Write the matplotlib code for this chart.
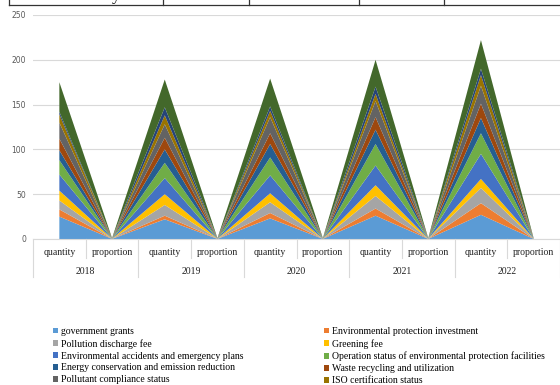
import matplotlib
matplotlib.use("Agg")
import matplotlib.pyplot as plt
from matplotlib.lines import Line2D
from matplotlib.patches import Patch
from matplotlib.transforms import blended_transform_factory

years = ["2018", "2019", "2020", "2021", "2022"]
sub_labels = ["quantity", "proportion"]

series_names = [
    "government grants",
    "Environmental protection investment",
    "Pollution discharge fee",
    "Greening fee",
    "Environmental accidents and emergency plans",
    "Operation status of environmental protection facilities",
    "Energy conservation and emission reduction",
    "Waste recycling and utilization",
    "Pollutant compliance status",
    "ISO certification status",
    "Environmental information disclosure",
    "Other environmental matters",
]

# per-year counts, one value per series (same order as series_names)
qty_2018 = [25, 8, 10, 11, 18, 16, 11, 13, 18, 9, 3, 33]
qty_2019 = [22, 4, 12, 12, 18, 17, 15, 13, 15, 10, 9, 31]
qty_2020 = [23, 6, 12, 10, 20, 20, 15, 12, 18, 7, 5, 31]
qty_2021 = [26, 8, 14, 12, 22, 24, 16, 14, 18, 8, 8, 30]
qty_2022 = [27, 13, 17, 10, 28, 23, 17, 16, 20, 12, 7, 32]

# per-year shares
prop_2018 = [0.143, 0.046, 0.057, 0.063, 0.103, 0.091, 0.063, 0.074, 0.103, 0.051, 0.017, 0.189]
prop_2019 = [0.124, 0.022, 0.067, 0.067, 0.101, 0.096, 0.084, 0.073, 0.084, 0.056, 0.051, 0.174]
prop_2020 = [0.128, 0.034, 0.067, 0.056, 0.112, 0.112, 0.084, 0.067, 0.101, 0.039, 0.028, 0.173]
prop_2021 = [0.13, 0.04, 0.07, 0.06, 0.11, 0.12, 0.08, 0.07, 0.09, 0.04, 0.04, 0.15]
prop_2022 = [0.122, 0.059, 0.077, 0.045, 0.126, 0.104, 0.077, 0.072, 0.09, 0.054, 0.032, 0.144]

colors = ["#5B9BD5", "#ED7D31", "#A5A5A5", "#FFC000", "#4472C4", "#70AD47",
          "#255E91", "#9E480E", "#636363", "#997300", "#264478", "#43682B"]

columns = [qty_2018, prop_2018, qty_2019, prop_2019, qty_2020, prop_2020,
           qty_2021, prop_2021, qty_2022, prop_2022]
series = [[col[i] for col in columns] for i in range(len(series_names))]
x = list(range(len(columns)))

W, H = 560, 385
fig = plt.figure(figsize=(W / 100, H / 100), dpi=100)
ax = fig.add_axes([33 / W, 1 - 239 / H, 527 / W, 224 / H])

ax.stackplot(x, series, colors=colors, linewidth=0)
ax.set_xlim(-0.5, 9.5)
ax.set_ylim(0, 250)
ax.set_yticks([0, 50, 100, 150, 200, 250])
ax.tick_params(axis="y", length=0, labelsize=5.5, labelcolor="#595959", pad=5)
ax.grid(axis="y", color="#d9d9d9", linewidth=0.8)
ax.set_axisbelow(True)
for s in ["top", "right", "left"]:
    ax.spines[s].set_visible(False)
ax.spines["bottom"].set_color("#d9d9d9")
ax.set_xticks([])

serif = ["Liberation Serif", "DejaVu Serif"]
trans = blended_transform_factory(ax.transData, ax.transAxes)
for i in x:
    ax.text(i, -0.062, sub_labels[i % 2], transform=trans, ha="center", va="center",
            fontsize=7, family=serif, color="#222222")
for k, yr in enumerate(years):
    ax.text(2 * k + 0.5, -0.143, yr, transform=trans, ha="center", va="center",
            fontsize=7, family=serif, color="#222222")
for b in range(11):
    bottom = -0.17 if b % 2 == 0 else -0.085
    ax.add_line(Line2D([b - 0.5, b - 0.5], [0, bottom], transform=trans,
                       color="#d9d9d9", linewidth=0.8, clip_on=False))

# legend in two columns, first ten series
left_idx = [0, 2, 4, 6, 8]
right_idx = [1, 3, 5, 7, 9]
for idx, x0 in [(left_idx, 53), (right_idx, 324)]:
    handles = [Patch(facecolor=colors[i], edgecolor="none", label=series_names[i]) for i in idx]
    fig.legend(handles=handles, loc="upper left", bbox_to_anchor=(x0 / W, 1 - 327 / H),
               frameon=False, borderpad=0, borderaxespad=0, handlelength=0.55,
               handleheight=0.55, handletextpad=0.3, labelspacing=0.3,
               prop={"family": serif, "size": 7})

# table border above the chart
top_y = 1 - 5 / H
fig.add_artist(Line2D([9 / W, 1], [top_y, top_y], color="#333333", linewidth=0.9))
for xv in [9, 163, 249, 359, 444]:
    fig.add_artist(Line2D([xv / W, xv / W], [top_y, 1], color="#333333", linewidth=0.9))
fig.text(112 / W, 1.0, "y", ha="left", va="baseline", fontsize=12,
         family=serif, color="#111111")

fig.savefig("out.png", dpi=100)
